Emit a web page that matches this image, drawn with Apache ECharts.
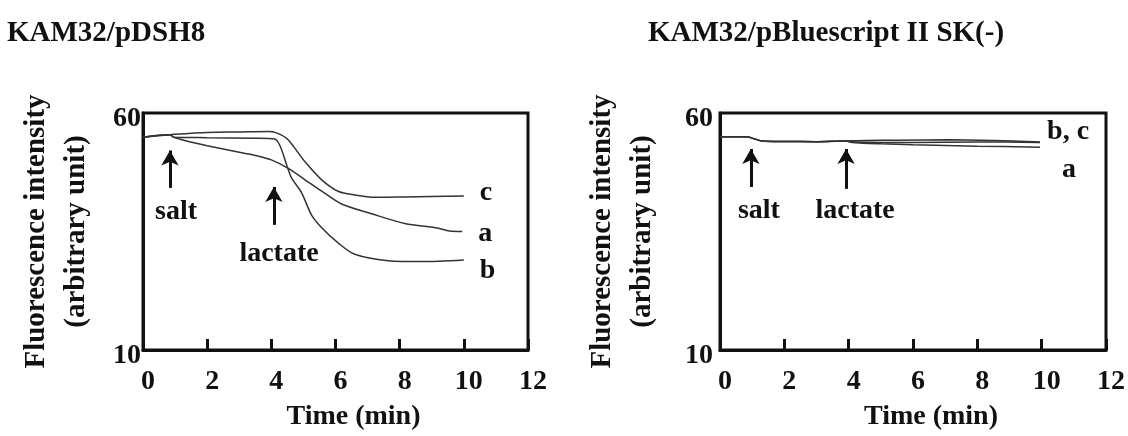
<!DOCTYPE html>
<html>
<head>
<meta charset="utf-8">
<script src="https://cdn.jsdelivr.net/npm/echarts@6/dist/echarts.min.js"></script>
<style>
html,body{margin:0;padding:0;background:#fff;}
#chart{width:1128px;height:436px;}
</style>
</head>
<body>
<div id="chart"></div>
<script>
// ---- Data ----
const titles = ['KAM32/pDSH8', 'KAM32/pBluescript II SK(-)'];
const xTicks = [0, 2, 4, 6, 8, 10, 12];
const yTicks = [10, 60];
const xName = 'Time (min)';
const yName = 'Fluorescence intensity\n(arbitrary unit)';

// Left panel: KAM32/pDSH8
const leftA_t = [0, 0.85, 0.95, 1.3, 2.0, 3.0, 3.5, 4.0, 4.53, 5.05, 5.57, 6.19, 7.12, 8.16, 9.2, 9.55, 9.95];
const leftA_v = [54.9, 55.4, 54.9, 54.2, 53.1, 51.7, 51.05, 50.1, 48.3, 45.9, 43.5, 40.8, 38.75, 36.7, 35.7, 35.1, 35.0];
const leftB_t = [0, 0.85, 0.95, 2.0, 3.5, 4.1, 4.27, 4.48, 4.63, 4.94, 5.26, 5.57, 6.08, 6.6, 7.64, 8.68, 10.0];
const leftB_v = [54.9, 55.4, 54.9, 54.8, 54.67, 54.5, 53.1, 49.0, 46.3, 43.2, 38.4, 35.8, 32.6, 30.2, 28.85, 28.65, 29.0];
const leftC_t = [0, 0.85, 0.95, 2.0, 3.0, 3.9, 4.16, 4.5, 5.05, 5.57, 6.08, 6.6, 7.23, 8.16, 10.0];
const leftC_v = [54.9, 55.4, 55.5, 55.9, 56.0, 56.1, 55.8, 54.5, 49.7, 45.9, 43.5, 42.7, 42.2, 42.3, 42.5];

// Right panel: KAM32/pBluescript II SK(-)
const rightA_t = [0, 0.85, 1.0, 1.3, 2.0, 3.0, 3.9, 4.1, 5.0, 6.0, 8.0, 9.95];
const rightA_v = [55.0, 55.0, 54.7, 54.1, 54.0, 53.95, 54.1, 53.8, 53.5, 53.3, 53.0, 52.8];
const rightB_t = [0, 0.85, 1.0, 1.3, 2.0, 3.0, 3.9, 4.2, 5.0, 6.0, 8.0, 9.95];
const rightB_v = [55.0, 55.0, 54.7, 54.1, 54.0, 53.95, 54.1, 53.9, 53.8, 53.8, 53.9, 53.8];
const rightC_t = [0, 0.85, 1.0, 1.3, 2.0, 3.0, 3.9, 4.5, 5.5, 7.1, 8.5, 9.95];
const rightC_v = [55.0, 55.0, 54.7, 54.1, 54.0, 53.95, 54.1, 54.2, 54.25, 54.35, 54.2, 53.9];

// Annotations: arrows (x, bottom, tip) and their texts (x, y, text)
const leftArrows = [[0.84, 44.2, 52.1], [4.08, 36.4, 44.4]];
const leftNotes = [[1.03, 39.2, 'salt'], [4.24, 30.4, 'lactate']];
const rightArrows = [[0.96, 44.4, 52.4], [3.92, 44.0, 52.4]];
const rightNotes = [[1.21, 39.4, 'salt'], [4.2, 39.4, 'lactate']];

// ---- Helpers ----
const zip = (t, v) => t.map((x, i) => [x, v[i]]);
const FONT = '"Liberation Serif", "Times New Roman", serif';
const INK = '#111';

function lineSeries(idx, name, t, v, labelText, dist, off) {
  return {
    type: 'line', name: name, xAxisIndex: idx, yAxisIndex: idx,
    data: zip(t, v), showSymbol: false, symbol: 'none', smooth: 0.3,
    lineStyle: { color: '#333', width: 1.5 },
    endLabel: labelText ? {
      show: true, formatter: labelText, distance: dist, offset: off,
      fontFamily: FONT, fontSize: 28, fontWeight: 'bold', color: INK
    } : { show: false },
    z: 3
  };
}
function arrowSeries(idx, arrows) {
  return {
    type: 'line', xAxisIndex: idx, yAxisIndex: idx, data: [], silent: true,
    markLine: {
      silent: true, animation: false, symbol: ['none', 'arrow'], symbolSize: [13, 15],
      lineStyle: { color: INK, width: 3, type: 'solid' }, label: { show: false },
      data: arrows.map(a => [{ coord: [a[0], a[1]] }, { coord: [a[0], a[2]] }])
    }
  };
}
function noteSeries(idx, notes) {
  return {
    type: 'scatter', xAxisIndex: idx, yAxisIndex: idx, silent: true,
    symbolSize: 0, itemStyle: { color: '#fff', opacity: 1 },
    data: notes.map(n => ({ value: [n[0], n[1]], name: n[2] })),
    label: { show: true, position: 'inside', formatter: '{b}', opacity: 1,
      fontFamily: FONT, fontSize: 28, fontWeight: 'bold', color: INK,
      textBorderWidth: 0 }
  };
}
function xAxis(idx) {
  return {
    type: 'value', gridIndex: idx, min: xTicks[0], max: xTicks[xTicks.length - 1], interval: 2,
    name: xName, nameLocation: 'middle', nameGap: 53,
    nameTextStyle: { fontFamily: FONT, fontSize: 28, fontWeight: 'bold', color: INK, padding: [0, 0, 0, 36] },
    axisLine: { show: true, lineStyle: { color: INK, width: 3 } },
    axisTick: { show: true, inside: true, length: 11, lineStyle: { color: INK, width: 3 } },
    axisLabel: { margin: 18, fontFamily: FONT, fontSize: 28, fontWeight: 'bold', color: INK, padding: [0, 0, 0, 10] },
    splitLine: { show: false }
  };
}
function yAxis(idx, margin, gap) {
  return {
    type: 'value', gridIndex: idx, min: yTicks[0], max: yTicks[1], interval: yTicks[1] - yTicks[0],
    name: yName, nameLocation: 'middle', nameGap: gap, nameRotate: 90,
    nameTextStyle: { fontFamily: FONT, fontSize: 29, fontWeight: 'bold', color: INK, lineHeight: 40, align: 'center' },
    axisLine: { show: true, lineStyle: { color: INK, width: 3 } },
    axisTick: { show: false },
    axisLabel: { margin: margin, fontFamily: FONT, fontSize: 28, fontWeight: 'bold', color: INK,
      verticalAlign: 'top', lineHeight: 12 },
    splitLine: { show: false }
  };
}

const chart = echarts.init(document.getElementById('chart'), null, { renderer: 'canvas' });
chart.setOption({
  animation: false,
  backgroundColor: '#fff',
  title: [
    { text: titles[0], left: 2, top: 14, textStyle: { fontFamily: FONT, fontSize: 29, fontWeight: 'bold', color: INK } },
    { text: titles[1], left: 643, top: 14, textStyle: { fontFamily: FONT, fontSize: 29, fontWeight: 'bold', color: INK } }
  ],
  grid: [
    { left: 143, top: 113, width: 385, height: 244, show: true, borderColor: INK, borderWidth: 3, backgroundColor: 'transparent' },
    { left: 720, top: 113, width: 386, height: 244, show: true, borderColor: INK, borderWidth: 3, backgroundColor: 'transparent' }
  ],
  xAxis: [xAxis(0), xAxis(1)],
  yAxis: [yAxis(0, 2, 46), yAxis(1, 7, 57)],
  series: [
    lineSeries(0, 'a', leftA_t, leftA_v, 'a', 16, [0, 2]),
    lineSeries(0, 'b', leftB_t, leftB_v, 'b', 16, [0, 11]),
    lineSeries(0, 'c', leftC_t, leftC_v, 'c', 16, [0, -3]),
    arrowSeries(0, leftArrows),
    noteSeries(0, leftNotes),
    lineSeries(1, 'a', rightA_t, rightA_v, 'a', 22, [0, 23]),
    lineSeries(1, 'b', rightB_t, rightB_v, null, 0, [0, 0]),
    lineSeries(1, 'c', rightC_t, rightC_v, 'b, c', 7, [0, -10]),
    arrowSeries(1, rightArrows),
    noteSeries(1, rightNotes)
  ]
});
</script>
</body>
</html>
